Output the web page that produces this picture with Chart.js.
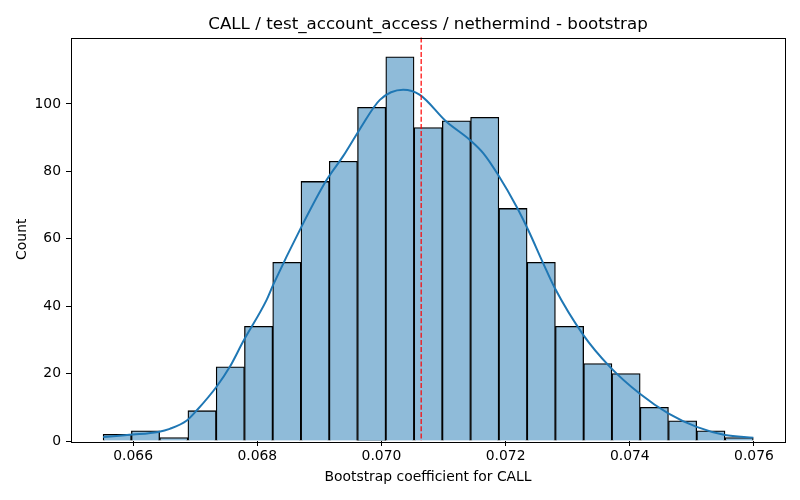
<!DOCTYPE html>
<html>
<head>
<meta charset="utf-8">
<script src="https://cdn.jsdelivr.net/npm/chart.js@4/dist/chart.umd.min.js"></script>
<style>
  html, body { margin: 0; padding: 0; background: #fff; }
</style>
</head>
<body>
<canvas id="chart" width="800" height="500"></canvas>
<script>
// histogram bins (left edge + width) and counts per bin
const binStart = 0.065517
const binWidth = 0.0004553
const counts = [2, 3, 1, 9, 22, 34, 53, 77, 83, 99, 114, 93, 95, 96, 69, 53, 34, 23, 20, 10, 6, 3, 1]

// kde curve
const kdeX = [0.065517, 0.066, 0.066403, 0.066591, 0.06686, 0.067031, 0.067344, 0.067558, 0.067772, 0.068149,
  0.068256, 0.068713, 0.069116, 0.069383, 0.069652, 0.069975, 0.07035, 0.070619, 0.071049, 0.071425,
  0.071639, 0.071881, 0.072177, 0.072364, 0.072606, 0.072794, 0.07325, 0.07368, 0.074163, 0.074619,
  0.075077, 0.075533, 0.075989]
const kdeY = [1.2, 1.9, 2.7, 3.6, 6.0, 9.2, 16.1, 22, 29.5, 41.8,
  46.3, 63.6, 77.4, 84.5, 92.5, 101.2, 104.2, 102.7, 94.7, 89.3,
  85.4, 78.9, 69.5, 62.6, 52.7, 45.3, 31.5, 22, 14, 8.2,
  4.2, 1.8, 1.0]

const bootMean = 0.07064
const title = 'CALL / test_account_access / nethermind - bootstrap'
const xTicks = [0.066, 0.068, 0.070, 0.072, 0.074, 0.076]
const yTicks = [0, 20, 40, 60, 80, 100]

const font = 'DejaVu Sans'
Chart.defaults.color = '#000'
Chart.defaults.font.family = font

const bars = counts.map((c, i) => ({ x: binStart + (i + 0.5) * binWidth, y: c }))
const kde = kdeX.map((x, i) => ({ x, y: kdeY[i] }))

const frame = {
  id: 'frame',
  afterDatasetsDraw(chart) {
    const { ctx, chartArea: a, scales: { x } } = chart
    ctx.save()
    // mean marker
    const px = x.getPixelForValue(bootMean)
    ctx.strokeStyle = '#ff0000'
    ctx.lineWidth = 1.2
    ctx.setLineDash([5, 2.2])
    ctx.beginPath()
    ctx.moveTo(px, a.top)
    ctx.lineTo(px, a.bottom)
    ctx.stroke()
    ctx.setLineDash([])
    ctx.strokeStyle = '#000'
    ctx.lineWidth = 1
    ctx.strokeRect(Math.round(a.left) + 0.5, Math.round(a.top) + 0.5,
      Math.round(a.right - a.left), Math.round(a.bottom - a.top))
    // title centred over the plot area
    ctx.fillStyle = '#000'
    ctx.font = '16.7px "' + font + '"'
    ctx.textAlign = 'center'
    ctx.textBaseline = 'alphabetic'
    ctx.fillText(title, (a.left + a.right) / 2, 28.5)
    ctx.restore()
  }
}

const tickGrid = { drawOnChartArea: false, offset: false, color: '#000', tickLength: 5, lineWidth: 1 }

new Chart(document.getElementById('chart'), {
  type: 'bar',
  data: {
    datasets: [
      {
        type: 'line',
        data: kde,
        borderColor: '#1f77b4',
        borderWidth: 2,
        pointRadius: 0,
        cubicInterpolationMode: 'monotone',
        order: 0
      },
      {
        data: bars,
        backgroundColor: '#8fbbd9',
        borderColor: '#000',
        borderWidth: 1.3,
        barPercentage: 1,
        categoryPercentage: 1,
        order: 1
      }
    ]
  },
  options: {
    responsive: false,
    animation: false,
    devicePixelRatio: 1,
    layout: { padding: { left: 0, right: 15, top: 37.5, bottom: 0 } },
    plugins: {
      legend: { display: false },
      tooltip: { enabled: false },
      title: { display: false }
    },
    scales: {
      x: {
        type: 'linear',
        offset: false,
        min: 0.065,
        max: 0.0765,
        grid: tickGrid,
        border: { display: false },
        afterBuildTicks: s => { s.ticks = xTicks.map(value => ({ value })) },
        afterFit: s => { s.height = 59 },
        ticks: {
          padding: 2,
          font: { size: 13.9 },
          maxRotation: 0,
          callback: v => v.toFixed(3)
        },
        title: {
          display: true,
          text: 'Bootstrap coefficient for CALL',
          font: { size: 13.9 },
          padding: { top: 0, bottom: 14 }
        }
      },
      y: {
        min: 0,
        max: 119.7,
        grid: tickGrid,
        border: { display: false },
        afterBuildTicks: s => { s.ticks = yTicks.map(value => ({ value })) },
        afterFit: s => { s.width = 71 },
        ticks: { padding: 5, font: { size: 13.9 } },
        title: {
          display: true,
          text: 'Count',
          font: { size: 13.9 },
          padding: { top: 13.6, bottom: 0 }
        }
      }
    }
  },
  plugins: [frame]
})
</script>
</body>
</html>
